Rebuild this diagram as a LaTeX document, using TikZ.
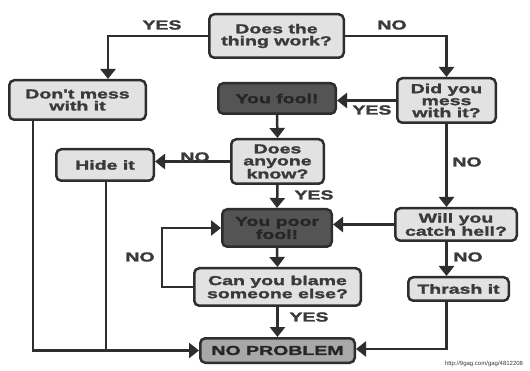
\documentclass[tikz,border=0pt]{standalone}
\usepackage{fontspec}
\setmainfont{Liberation Sans}
\newfontfamily\boxfont[FakeStretch=1.5,FakeBold=1.8]{Liberation Sans}
\usetikzlibrary{arrows.meta}
\definecolor{lightfill}{HTML}{E2E2E2}
\definecolor{darkfill}{HTML}{545454}
\definecolor{midfill}{HTML}{A8A8A8}
\definecolor{edgecol}{HTML}{2E2E2E}
\definecolor{txtlight}{HTML}{3A3A3A}
\definecolor{txtdark}{HTML}{262626}
\tikzset{
  box/.style={draw=edgecol, line width=2.5pt, rounded corners=5pt, fill=lightfill,
    text=txtlight, align=center, inner sep=0pt,
    font=\boxfont\bfseries\fontsize{13}{12}\selectfont},
  darkbox/.style={box, fill=darkfill, text=txtdark},
  midbox/.style={box, fill=midfill, text=txtdark},
  conn/.style={draw=edgecol, line width=2.5pt},
  arr/.style={conn, -{Triangle[length=10pt,width=15pt]}},
  lbl/.style={text=txtlight, inner sep=0pt, font=\boxfont\bfseries\fontsize{13}{12}\selectfont}
}
\begin{document}
\begin{tikzpicture}[x=1pt,y=-1pt]
\useasboundingbox (0,0) rectangle (530,371);
\fill[white] (0,0) rectangle (530,371);
% nodes
\node[box, minimum width=134.5pt, minimum height=43.5pt] (work) at (276.5,36) {Does the\\thing work?};
\node[box, minimum width=136.5pt, minimum height=39.5pt] (dontmess) at (77.5,100) {Don't mess\\with it};
\node[darkbox, minimum width=117.5pt, minimum height=30.5pt] (fool) at (277,98.5) {You fool!};
\node[box, minimum width=98.5pt, minimum height=44.5pt] (didmess) at (446.5,100.5) {Did you\\mess\\with it?};
\node[box, minimum width=92.5pt, minimum height=44.5pt] (anyone) at (277.5,161.5) {Does\\anyone\\know?};
\node[box, minimum width=97.5pt, minimum height=31.5pt] (hide) at (105,165) {Hide it};
\node[darkbox, minimum width=109.5pt, minimum height=37.5pt] (poor) at (277,228) {You poor\\fool!};
\node[box, minimum width=121.5pt, minimum height=32.5pt] (catch) at (456,224.5) {Will you\\catch hell?};
\node[box, minimum width=166.5pt, minimum height=37.5pt] (blame) at (277.5,287) {Can you blame\\someone else?};
\node[box, minimum width=100.5pt, minimum height=23.5pt] (thrash) at (458.5,289) {Thrash it};
\node[midbox, minimum width=154.5pt, minimum height=24.5pt] (noprob) at (277.5,350.5) {NO PROBLEM};
% connectors
\draw[arr] (work.west) -| ([xshift=30.5pt]dontmess.north);
\draw[arr] (work.east) -| (didmess.north);
\draw[arr] (didmess.west) -- (didmess.west -| fool.east);
\draw[arr] (fool.south) -- (anyone.north);
\draw[arr] (anyone.west) -- (anyone.west -| hide.east);
\draw[arr] (anyone.south) -- (poor.north);
\draw[arr] (didmess.south) -- (didmess.south |- catch.north);
\draw[arr] (catch.west) -- (catch.west -| poor.east);
\draw[arr] (didmess.south |- catch.south) -- (didmess.south |- thrash.north);
\draw[arr] (didmess.south |- thrash.south) |- ([yshift=1.5pt]noprob.east);
\draw[arr] (poor.south) -- (blame.north);
\draw[arr] (blame.west) -- ++(-31,0) |- (poor.west);
\draw[arr] (blame.south) -- (noprob.north);
\draw[arr] ([xshift=-44.5pt]dontmess.south) |- (noprob.west);
\draw[conn] ([xshift=1pt]hide.south) -- ([xshift=1pt]hide.south |- noprob.west);
% labels
\node[lbl] (l1) at (162,25) {YES};
\node[lbl] (l2) at (392,25) {NO};
\node[lbl] (l3) at (372,110) {YES};
\node[lbl] (l4) at (195,157) {NO};
\node[lbl] (l5) at (314,195) {YES};
\node[lbl] (l6) at (467,162) {NO};
\node[lbl] (l7) at (468,257) {NO};
\node[lbl] (l8) at (140,257) {NO};
\node[lbl] (l9) at (309,317) {YES};
\node[text=txtlight, inner sep=0pt, font=\fontsize{6}{6}\selectfont] (wm) at (484,364) {http://9gag.com/gag/4812208};
\end{tikzpicture}
\end{document}
